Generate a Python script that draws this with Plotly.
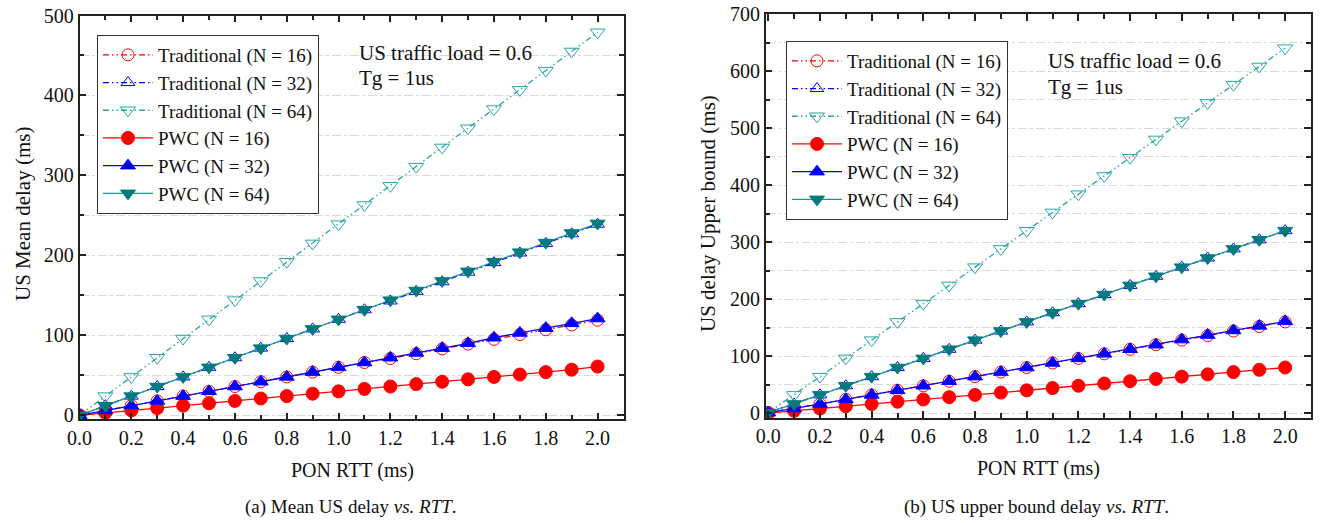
import plotly.graph_objects as go

# PON round-trip time (ms)
rtt = [0.0, 0.1, 0.2, 0.3, 0.4, 0.5, 0.6, 0.7, 0.8, 0.9, 1.0,
       1.1, 1.2, 1.3, 1.4, 1.5, 1.6, 1.7, 1.8, 1.9, 2.0]

# (a) mean upstream delay (ms)
trad16_mean = [0, 6, 12, 18, 24, 30, 36, 42, 48, 54, 60, 66, 71, 77, 83, 89, 95, 101, 107, 113, 119]
trad32_mean = [0, 12, 24, 36, 48, 60, 72, 84, 96, 108, 120, 132, 143, 155, 167, 179, 191, 203, 215, 227, 239]
trad64_mean = [0, 24, 48, 72, 96, 120, 144, 168, 192, 215, 239, 263, 287, 311, 335, 359, 383, 407, 431, 455, 479]
pwc16_mean = [0, 3, 6, 9, 12, 15, 18, 21, 24, 27, 30, 33, 36, 39, 42, 45, 48, 51, 54, 57, 61]
pwc32_mean = [0, 6, 12, 18, 24, 30, 36, 42, 48, 54, 60, 66, 72, 78, 84, 90, 97, 103, 109, 115, 121]
pwc64_mean = [0, 12, 24, 36, 48, 60, 72, 84, 96, 108, 120, 132, 144, 156, 168, 180, 192, 204, 216, 228, 240]

# (b) upstream delay upper bound (ms)
trad16_ub = [1, 8, 16, 24, 32, 40, 48, 56, 64, 72, 80, 88, 96, 104, 112, 120, 128, 136, 144, 152, 160]
trad32_ub = [1, 16, 32, 48, 64, 80, 96, 112, 128, 144, 160, 176, 192, 208, 224, 240, 256, 272, 288, 304, 320]
trad64_ub = [1, 32, 64, 96, 128, 160, 192, 224, 256, 288, 320, 352, 384, 416, 448, 480, 512, 544, 576, 608, 640]
pwc16_ub = [0, 4, 8, 12, 16, 20, 24, 28, 32, 36, 40, 44, 48, 52, 56, 60, 64, 68, 72, 76, 80]
pwc32_ub = [1, 8, 16, 24, 32, 40, 48, 56, 64, 72, 80, 88, 96, 104, 112, 120, 129, 137, 145, 153, 161]
pwc64_ub = [1, 16, 32, 48, 64, 80, 96, 112, 128, 144, 160, 176, 192, 208, 224, 240, 256, 272, 288, 304, 320]

names = ["Traditional (N = 16)", "Traditional (N = 32)", "Traditional (N = 64)",
         "PWC (N = 16)", "PWC (N = 32)", "PWC (N = 64)"]

RED = "#ff0000"
BLUE = "#0000ff"
TEAL_L = "#2aa5a5"
TEAL_D = "#007b7b"
DASH = "6px,3px,1.5px,3px,1.5px,3px"
FONT = "Liberation Serif, Times New Roman, serif"

styles = [
    dict(color=RED, dash=DASH, symbol="circle-open", mcolor=RED, size=12),
    dict(color=BLUE, dash=DASH, symbol="triangle-up-open", mcolor=BLUE, size=12),
    dict(color=TEAL_L, dash=DASH, symbol="triangle-down-open", mcolor=TEAL_L, size=13),
    dict(color=RED, dash="solid", symbol="circle", mcolor=RED, size=13),
    dict(color=BLUE, dash="solid", symbol="triangle-up", mcolor=BLUE, size=13),
    dict(color="#1a9494", dash="solid", symbol="triangle-down", mcolor=TEAL_D, size=13),
]

fig = go.Figure()

panels = [
    ("x", "y", "legend", [trad16_mean, trad32_mean, trad64_mean, pwc16_mean, pwc32_mean, pwc64_mean]),
    ("x2", "y2", "legend2", [trad16_ub, trad32_ub, trad64_ub, pwc16_ub, pwc32_ub, pwc64_ub]),
]

for xa, ya, lg, series in panels:
    for name, vals, st in zip(names, series, styles):
        fig.add_trace(go.Scatter(
            x=rtt, y=vals, name=name, mode="lines+markers",
            xaxis=xa, yaxis=ya, legend=lg,
            line=dict(color=st["color"], width=1.3, dash=st["dash"]),
            marker=dict(symbol=st["symbol"], size=st["size"],
                        color=st["mcolor"], line=dict(color=st["mcolor"], width=1)),
        ))

TICKFONT = dict(family=FONT, size=20, color="#111")

def xaxis(domain, rng, anchor):
    return dict(
        domain=domain, range=rng, anchor=anchor,
        tickmode="linear", tick0=0, dtick=0.2, tickformat=".1f",
        ticks="inside", ticklen=7, tickwidth=1.5, tickcolor="#222",
        minor=dict(dtick=0.1, tick0=0, ticks="inside", ticklen=5, tickwidth=1.5, tickcolor="#222"),
        showline=True, linecolor="#222", linewidth=1.5, mirror="allticks",
        showgrid=False, zeroline=False, automargin=False,
        tickfont=TICKFONT,
    )

def yaxis(domain, rng, anchor):
    return dict(
        domain=domain, range=rng, anchor=anchor,
        tickmode="linear", tick0=0, dtick=100,
        ticks="inside", ticklen=7, tickwidth=1.5, tickcolor="#222",
        minor=dict(dtick=50, tick0=0, ticks="inside", ticklen=5, tickwidth=1.5, tickcolor="#222",
                   showgrid=True, gridcolor="#dadada", griddash="dashdot", gridwidth=1),
        showline=True, linecolor="#222", linewidth=1.5, mirror="allticks",
        showgrid=True, gridcolor="#dadada", griddash="dashdot", gridwidth=1,
        zeroline=False, automargin=False,
        tickfont=TICKFONT,
    )

W, H = 1321, 523

def px_x(p):
    return p / W

def px_y(p):
    return 1 - p / H

legend_style = dict(
    bgcolor="white", bordercolor="#333", borderwidth=1,
    font=dict(family=FONT, size=19, color="#111"),
    xanchor="left", yanchor="top", tracegroupgap=0, itemwidth=50,
)

fig.update_layout(
    width=W, height=H,
    margin=dict(l=0, r=0, t=0, b=0),
    paper_bgcolor="white", plot_bgcolor="white",
    font=dict(family=FONT, size=20, color="#111"),
    xaxis=xaxis([px_x(79.5), px_x(623.5)], [0, 2.1], "y"),
    yaxis=yaxis([px_y(419.3), px_y(15.5)], [-5, 500], "x"),
    xaxis2=xaxis([px_x(765.7), px_x(1311)], [-0.01, 2.1], "y2"),
    yaxis2=yaxis([px_y(417.7), px_y(14)], [-8, 700], "x2"),
    legend=dict(x=px_x(97), y=px_y(35), **legend_style),
    legend2=dict(x=px_x(786), y=px_y(41), **legend_style),
)

annotations = [
    dict(text="US traffic load = 0.6", x=357, y=53),
    dict(text="Tg = 1us", x=357, y=78),
    dict(text="US traffic load = 0.6", x=1046, y=61),
    dict(text="Tg = 1us", x=1046, y=87),
]
for a in annotations:
    fig.add_annotation(text=a["text"], x=px_x(a["x"]), y=px_y(a["y"]), xref="paper", yref="paper",
                       xanchor="left", yanchor="middle", showarrow=False,
                       font=dict(family=FONT, size=21, color="#111"))

titles = [
    dict(text="PON RTT (ms)", x=352, y=470, angle=0, size=20),
    dict(text="PON RTT (ms)", x=1038, y=468, angle=0, size=20),
    dict(text="US Mean delay (ms)", x=23, y=214, angle=-90, size=21),
    dict(text="US delay Upper bound (ms)", x=708, y=214, angle=-90, size=21),
    dict(text="(a) Mean US delay <i>vs. RTT</i>.", x=351, y=507, angle=0, size=19),
    dict(text="(b) US upper bound delay <i>vs. RTT</i>.", x=1036, y=507, angle=0, size=19),
]
for t in titles:
    fig.add_annotation(text=t["text"], x=px_x(t["x"]), y=px_y(t["y"]), xref="paper", yref="paper",
                       xanchor="center", yanchor="middle", showarrow=False, textangle=t["angle"],
                       font=dict(family=FONT, size=t["size"], color="#111"))

fig.write_html("out.html")
